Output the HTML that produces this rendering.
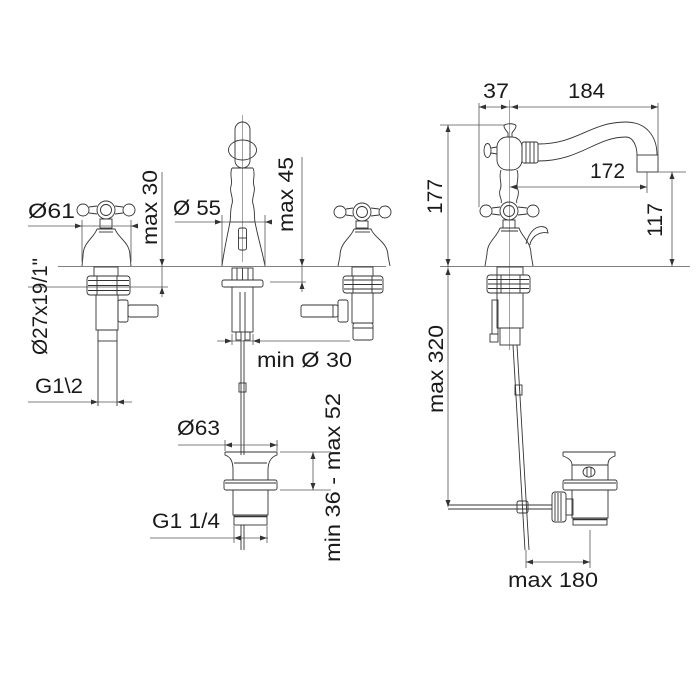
<!DOCTYPE html>
<html><head><meta charset="utf-8"><style>
html,body{margin:0;padding:0;background:#fff;}
svg{display:block;}
text{font-family:"Liberation Sans",Arial,sans-serif;font-size:21px;fill:#1a1a1a;}
.o{fill:none;stroke:#333;stroke-width:0.9;}
.d{fill:none;stroke:#555;stroke-width:0.8;}
.a{fill:#333;stroke:none;}
</style></head><body>
<svg width="700" height="700" viewBox="0 0 700 700" xmlns="http://www.w3.org/2000/svg">
<rect width="700" height="700" fill="#fff"/>

<!-- deck lines -->
<line class="d" x1="58" y1="266.5" x2="386" y2="266.5"/>
<line class="d" x1="440" y1="266.5" x2="690" y2="266.5"/>

<!-- ============ LEFT TAP ============ -->
<!-- cross handle -->
<g class="o">
  <ellipse cx="83" cy="210" rx="6" ry="6"/>
  <ellipse cx="129" cy="210" rx="6" ry="6"/>
  <line x1="89" y1="207" x2="97" y2="206"/><line x1="89" y1="213" x2="97" y2="214"/>
  <line x1="115" y1="206" x2="123" y2="207"/><line x1="115" y1="214" x2="123" y2="213"/>
  <circle cx="106" cy="210" r="9"/><circle cx="106" cy="210" r="5.5"/>
  <rect x="100" y="219" width="12" height="9"/>
  <path d="M97,229 L115,229 C118,238 130,242 130,256 L131,266 M97,229 C94,238 83,242 83,256 L82,266"/>
  <line x1="99" y1="232" x2="113" y2="232"/>
  <!-- under deck -->
  <rect x="94" y="267" width="24" height="9"/>
  <rect x="87" y="276" width="43" height="19" rx="3"/>
  <line x1="88" y1="280.5" x2="129" y2="280.5"/><line x1="88" y1="285.5" x2="129" y2="285.5"/><line x1="88" y1="290.5" x2="129" y2="290.5"/>
  <line x1="97" y1="276" x2="97" y2="295"/><line x1="117" y1="276" x2="117" y2="295"/>
  <rect x="96" y="295" width="22" height="35"/>
  <rect x="118" y="300" width="10" height="22" rx="2"/>
  <rect x="128" y="305" width="30" height="12" rx="2"/>
  <line x1="118" y1="306" x2="118" y2="316"/>
  <rect x="98" y="330" width="19" height="11"/>
  <line x1="98" y1="341" x2="98" y2="406"/><line x1="117" y1="341" x2="117" y2="406"/>
</g>
<!-- left dims -->
<line class="d" x1="28" y1="226" x2="134" y2="226"/>
<line class="d" x1="82" y1="220" x2="82" y2="262"/>
<line class="d" x1="131" y1="220" x2="131" y2="262"/>
<polygon class="a" points="82,226 75,223.5 75,228.5"/>
<polygon class="a" points="131,226 138,223.5 138,228.5"/>
<line class="d" x1="162" y1="172" x2="162" y2="297"/>
<line class="d" x1="28" y1="287" x2="168" y2="287"/>
<polygon class="a" points="162,266 159.5,259 164.5,259"/>
<polygon class="a" points="162,287 159.5,294 164.5,294"/>
<line class="d" x1="28" y1="402" x2="132" y2="402"/>
<polygon class="a" points="98,402 91,399.5 91,404.5"/>
<polygon class="a" points="117,402 124,399.5 124,404.5"/>
<text x="28" y="218" textLength="47" lengthAdjust="spacingAndGlyphs">Ø61</text>
<text transform="translate(157,245) rotate(-90)" textLength="75" lengthAdjust="spacingAndGlyphs">max 30</text>
<text transform="translate(47,355) rotate(-90)" textLength="97" lengthAdjust="spacingAndGlyphs">Ø27x19/1"</text>
<text x="35" y="393" textLength="48" lengthAdjust="spacingAndGlyphs">G1\2</text>

<!-- ============ CENTER SPOUT ============ -->
<g class="o">
  <line x1="242.5" y1="115" x2="242.5" y2="262" stroke="#666" stroke-width="0.6"/>
  <rect x="235" y="122" width="15" height="46" rx="7.5"/>
  <ellipse cx="242.5" cy="150" rx="14" ry="10"/>
  <path d="M232,168 C229,175 233,180 231,186 C229,192 234,198 232,204 C230,210 231,216 230,222"/>
  <path d="M253,168 C256,175 252,180 254,186 C256,192 251,198 253,204 C255,210 254,216 255,222"/>
  <line x1="232" y1="168" x2="253" y2="168"/>
  <path d="M230,222 L255,222 C258,238 262,250 265,266 M230,222 C227,238 224,250 222,266"/>
  <rect x="238.5" y="228" width="8" height="22" rx="2"/>
  <line x1="238.5" y1="238" x2="246.5" y2="238"/>
  <!-- under deck -->
  <rect x="232" y="268" width="21" height="12"/>
  <line x1="237" y1="268" x2="237" y2="280"/><line x1="242.5" y1="268" x2="242.5" y2="280"/><line x1="248" y1="268" x2="248" y2="280"/>
  <rect x="222" y="280" width="41" height="7" rx="2"/>
  <rect x="232" y="287" width="21" height="45"/>
  <line x1="240" y1="292" x2="240" y2="332"/><line x1="245" y1="292" x2="245" y2="332"/>
  <rect x="236" y="332" width="5" height="8"/><rect x="245" y="332" width="5" height="8"/>
  <line x1="241" y1="340" x2="241" y2="455"/><line x1="244" y1="340" x2="244" y2="455"/>
  <rect x="239" y="383" width="7" height="9"/>
</g>
<line class="d" x1="175" y1="222" x2="266" y2="222"/>
<line class="d" x1="222" y1="215" x2="222" y2="266"/>
<line class="d" x1="265" y1="215" x2="265" y2="266"/>
<polygon class="a" points="222,222 215,219.5 215,224.5"/>
<polygon class="a" points="265,222 272,219.5 272,224.5"/>
<line class="d" x1="302" y1="157" x2="302" y2="292"/>
<line class="d" x1="270" y1="282" x2="306" y2="282"/>
<polygon class="a" points="302,266 299.5,259 304.5,259"/>
<polygon class="a" points="302,282 299.5,289 304.5,289"/>
<line class="d" x1="217" y1="341" x2="350" y2="341"/>
<line class="d" x1="232" y1="334" x2="232" y2="345"/>
<line class="d" x1="253" y1="334" x2="253" y2="345"/>
<polygon class="a" points="232,341 225,338.5 225,343.5"/>
<polygon class="a" points="253,341 260,338.5 260,343.5"/>
<text x="173" y="215" textLength="48" lengthAdjust="spacingAndGlyphs">Ø 55</text>
<text transform="translate(293,232) rotate(-90)" textLength="75" lengthAdjust="spacingAndGlyphs">max 45</text>
<text x="257" y="367" textLength="95" lengthAdjust="spacingAndGlyphs">min Ø 30</text>

<!-- ============ CENTER WASTE ============ -->
<g class="o">
  <path d="M225,452 L277,452 L277,455 C271,457 268,462 268,470 L268,480 M225,452 L225,455 C231,457 233,462 233,470 L233,480"/>
  <line x1="234" y1="463" x2="267" y2="463"/>
  <rect x="224" y="480" width="53" height="10" rx="2"/>
  <line x1="225" y1="483" x2="276" y2="483"/>
  <rect x="233" y="490" width="35" height="25"/>
  <rect x="234" y="515" width="33" height="10"/>
  <line x1="234" y1="516.5" x2="267" y2="516.5" stroke-width="1.6"/>
  <line x1="241" y1="525" x2="241" y2="550"/><line x1="244" y1="525" x2="244" y2="550"/>
</g>
<line class="d" x1="178" y1="445" x2="278" y2="445"/>
<line class="d" x1="225" y1="440" x2="225" y2="451"/>
<line class="d" x1="277" y1="440" x2="277" y2="451"/>
<polygon class="a" points="225,445 232,442.5 232,447.5"/>
<polygon class="a" points="277,445 270,442.5 270,447.5"/>
<line class="d" x1="150" y1="538" x2="268" y2="538"/>
<line class="d" x1="234" y1="526" x2="234" y2="543"/>
<line class="d" x1="267" y1="526" x2="267" y2="543"/>
<polygon class="a" points="234,538 241,535.5 241,540.5"/>
<polygon class="a" points="267,538 260,535.5 260,540.5"/>
<line class="d" x1="280" y1="452" x2="331" y2="452"/>
<line class="d" x1="280" y1="490" x2="331" y2="490"/>
<line class="d" x1="313" y1="452" x2="313" y2="490"/>
<polygon class="a" points="313,452 310.5,459 315.5,459"/>
<polygon class="a" points="313,490 310.5,483 315.5,483"/>
<text x="177" y="435" textLength="43" lengthAdjust="spacingAndGlyphs">Ø63</text>
<text x="152" y="528" textLength="68" lengthAdjust="spacingAndGlyphs">G1 1/4</text>
<text transform="translate(340,562) rotate(-90)" textLength="169" lengthAdjust="spacingAndGlyphs">min 36 - max 52</text>

<!-- ============ RIGHT TAP (front) ============ -->
<g class="o">
  <ellipse cx="340" cy="212" rx="6" ry="6"/>
  <ellipse cx="385" cy="212" rx="6" ry="6"/>
  <line x1="346" y1="209" x2="353" y2="208"/><line x1="346" y1="215" x2="353" y2="216"/>
  <line x1="371" y1="208" x2="379" y2="209"/><line x1="371" y1="216" x2="379" y2="215"/>
  <circle cx="362" cy="212" r="9"/><circle cx="362" cy="212" r="5.5"/>
  <rect x="356" y="221" width="12" height="7"/>
  <path d="M354,229 L371,229 C374,238 388,242 388,256 L390,266 M354,229 C351,238 340,242 340,256 L338,266"/>
  <line x1="355" y1="232" x2="370" y2="232"/>
  <rect x="352" y="267" width="21" height="9"/>
  <rect x="343" y="276" width="40" height="17" rx="3"/>
  <line x1="344" y1="280" x2="382" y2="280"/><line x1="344" y1="284.5" x2="382" y2="284.5"/><line x1="344" y1="289" x2="382" y2="289"/>
  <line x1="353" y1="276" x2="353" y2="293"/><line x1="372" y1="276" x2="372" y2="293"/>
  <rect x="352" y="293" width="21" height="30"/>
  <rect x="338" y="300" width="10" height="22" rx="2"/>
  <rect x="301" y="305" width="37" height="12" rx="2"/>
  <line x1="333" y1="305" x2="333" y2="317"/>
  <rect x="353" y="323" width="20" height="17" rx="2"/>
  <line x1="353" y1="328" x2="373" y2="328"/>
</g>

<!-- ============ RIGHT SIDE VIEW ============ -->
<g class="o">
  <line x1="509.5" y1="100" x2="509.5" y2="350" stroke="#666" stroke-width="0.6"/>
  <!-- top knob -->
  <path d="M504,126 C504,123 516,123 516,126 C516,129 513,131 512,133 L512,137 M504,126 C504,129 507,131 508,133 L508,137"/>
  <!-- head -->
  <rect x="497" y="137" width="25" height="33" rx="10"/>
  <!-- left small handle -->
  <ellipse cx="487.5" cy="150.5" rx="3.5" ry="7"/>
  <line x1="491" y1="148" x2="497" y2="147"/><line x1="491" y1="153" x2="497" y2="154"/>
  <!-- collar -->
  <rect x="522" y="142" width="16" height="21" rx="2"/>
  <line x1="526" y1="142" x2="526" y2="163"/><line x1="530" y1="142" x2="530" y2="163"/><line x1="534" y1="142" x2="534" y2="163"/>
  <!-- spout -->
  <path d="M538,144 C578,144 590,122 626,122 C646,122 657,136 657,155"/>
  <path d="M538,161 C580,161 596,137 626,137 C633,137 637,146 637,155"/>
  <rect x="637" y="155" width="21" height="17"/>
  <!-- shaft -->
  <path d="M501,170 C498,178 503,184 500,190 C498,196 503,200 501,203"/>
  <path d="M517,170 C520,178 515,184 518,190 C520,196 515,200 517,203"/>
  <!-- cross handle -->
  <ellipse cx="486" cy="211" rx="6" ry="6"/>
  <ellipse cx="533" cy="211" rx="6" ry="6"/>
  <line x1="492" y1="208" x2="500" y2="207"/><line x1="492" y1="214" x2="500" y2="215"/>
  <line x1="518" y1="207" x2="527" y2="208"/><line x1="518" y1="215" x2="527" y2="214"/>
  <circle cx="509" cy="211" r="9"/><circle cx="509" cy="211" r="5.5"/>
  <rect x="503" y="220" width="12" height="8"/>
  <!-- bell -->
  <path d="M500,228 L519,228 C522,237 531,242 531,254 L533,266 M500,228 C497,237 487,242 487,254 L485,266"/>
  <line x1="501" y1="231" x2="518" y2="231"/>
  <!-- lever -->
  <path d="M526,244 C528,236 531,231 536,228 C540,226 545,226 547,229 L548,233 C544,232 539,233 535,236 C532,239 530,242 530,245"/>
  <!-- under deck -->
  <rect x="497" y="267" width="26" height="8"/>
  <rect x="487" y="275" width="43" height="18" rx="3"/>
  <line x1="488" y1="279.5" x2="529" y2="279.5"/><line x1="488" y1="284" x2="529" y2="284"/><line x1="488" y1="288.5" x2="529" y2="288.5"/>
  <line x1="497" y1="275" x2="497" y2="293"/><line x1="501" y1="275" x2="501" y2="293"/><line x1="520" y1="275" x2="520" y2="293"/>
  <rect x="497" y="293" width="26" height="35"/>
  <rect x="492" y="300" width="6" height="34"/>
  <rect x="490" y="334" width="8" height="8"/>
  <rect x="500" y="328" width="20" height="17"/>
  <!-- slanted rod -->
  <line x1="513" y1="345" x2="525" y2="550"/>
  <line x1="517" y1="345" x2="529" y2="550"/>
  <rect x="515" y="385" width="7" height="10"/>
  <!-- horizontal rod -->
  <line x1="448" y1="505" x2="552" y2="505"/>
  <line x1="448" y1="509" x2="552" y2="509"/>
  <rect x="517" y="501" width="11" height="12" rx="2"/>
  <!-- waste right -->
  <path d="M563,452 L615,452 L615,456 C609,458 608,461 608,465 L608,480 M563,452 L563,456 C569,458 572,461 572,465 L572,480"/>
  <line x1="572" y1="465" x2="608" y2="465"/>
  <ellipse cx="589" cy="472" rx="6" ry="5"/>
  <line x1="587" y1="467" x2="587" y2="477"/><line x1="591" y1="467" x2="591" y2="477"/>
  <rect x="563" y="480" width="54" height="10" rx="2"/>
  <line x1="564" y1="483" x2="616" y2="483"/>
  <rect x="572" y="490" width="36" height="28"/>
  <rect x="573" y="518" width="34" height="7"/>
  <line x1="573" y1="519.5" x2="607" y2="519.5" stroke-width="1.6"/>
  <rect x="552" y="492" width="14" height="30" rx="3"/>
  <line x1="555" y1="493" x2="555" y2="521"/><line x1="558" y1="493" x2="558" y2="521"/><line x1="561" y1="493" x2="561" y2="521"/>
  <rect x="566" y="499" width="7" height="16"/>
</g>
<!-- right dims -->
<line class="d" x1="479" y1="107" x2="658" y2="107"/>
<line class="d" x1="479" y1="103" x2="479" y2="207"/>
<line class="d" x1="658" y1="103" x2="658" y2="155"/>
<polygon class="a" points="479,107 486,104.5 486,109.5"/>
<polygon class="a" points="508,107 501,104.5 501,109.5"/>
<polygon class="a" points="511,107 518,104.5 518,109.5"/>
<polygon class="a" points="658,107 651,104.5 651,109.5"/>
<line class="d" x1="440" y1="125" x2="505" y2="125"/>
<line class="d" x1="448" y1="125" x2="448" y2="507"/>
<polygon class="a" points="448,125 445.5,132 450.5,132"/>
<polygon class="a" points="448,266 445.5,259 450.5,259"/>
<polygon class="a" points="448,268 445.5,275 450.5,275"/>
<polygon class="a" points="448,507 445.5,500 450.5,500"/>
<line class="d" x1="510" y1="187" x2="647" y2="187"/>
<line class="d" x1="647" y1="172" x2="647" y2="193"/>
<polygon class="a" points="510,187 517,184.5 517,189.5"/>
<polygon class="a" points="647,187 640,184.5 640,189.5"/>
<line class="d" x1="658" y1="172" x2="686" y2="172"/>
<line class="d" x1="672" y1="172" x2="672" y2="266"/>
<polygon class="a" points="672,172 669.5,179 674.5,179"/>
<polygon class="a" points="672,266 669.5,259 674.5,259"/>
<line class="d" x1="526" y1="550" x2="526" y2="568"/>
<line class="d" x1="590" y1="530" x2="590" y2="568"/>
<line class="d" x1="526" y1="562" x2="590" y2="562"/>
<polygon class="a" points="526,562 533,559.5 533,564.5"/>
<polygon class="a" points="590,562 583,559.5 583,564.5"/>
<text x="483" y="98" textLength="26" lengthAdjust="spacingAndGlyphs">37</text>
<text x="568" y="98" textLength="37" lengthAdjust="spacingAndGlyphs">184</text>
<text x="590" y="178" textLength="35" lengthAdjust="spacingAndGlyphs">172</text>
<text transform="translate(442,214) rotate(-90)" textLength="35" lengthAdjust="spacingAndGlyphs">177</text>
<text transform="translate(662,237) rotate(-90)" textLength="34" lengthAdjust="spacingAndGlyphs">117</text>
<text transform="translate(443,413) rotate(-90)" textLength="88" lengthAdjust="spacingAndGlyphs">max 320</text>
<text x="508" y="587" textLength="90" lengthAdjust="spacingAndGlyphs">max 180</text>
</svg>
</body></html>
